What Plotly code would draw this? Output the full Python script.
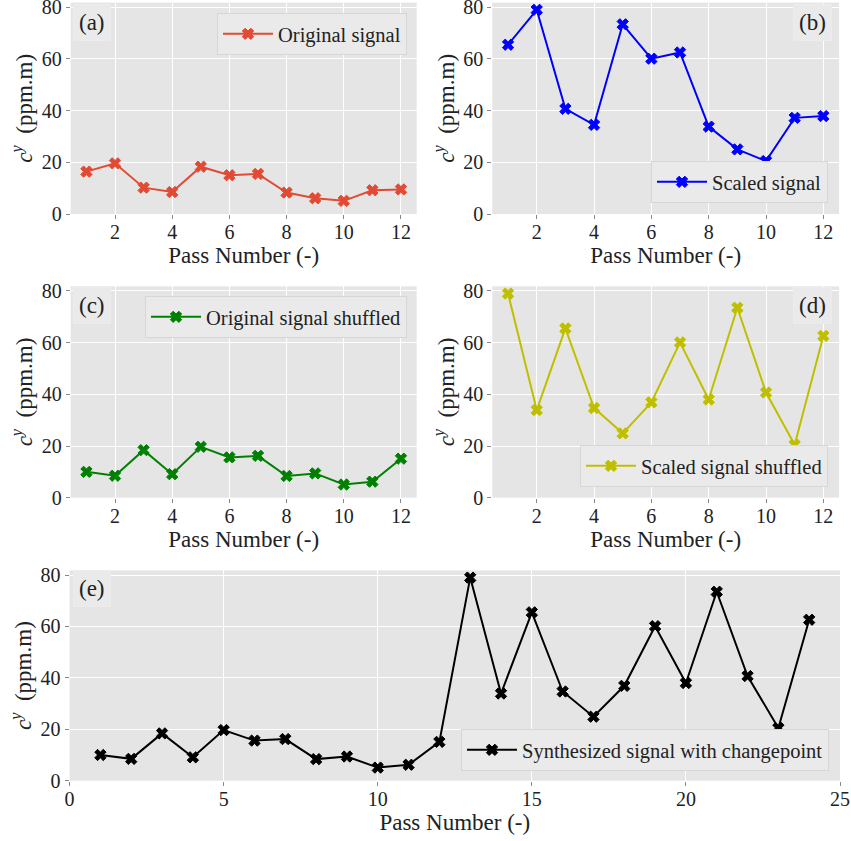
import plotly.graph_objects as go

# ---- data ----
passes = [1, 2, 3, 4, 5, 6, 7, 8, 9, 10, 11, 12]
passes_all = list(range(1, 25))
original = [16.4, 19.6, 10.2, 8.5, 18.3, 15.0, 15.5, 8.3, 6.1, 5.1, 9.2, 9.5]
scaled = [65.5, 79.0, 40.7, 34.5, 73.4, 60.1, 62.5, 33.8, 25.0, 20.5, 37.2, 37.9]
original_shuffled = [10.0, 8.5, 18.4, 9.1, 19.7, 15.6, 16.2, 8.4, 9.4, 5.1, 6.2, 15.1]
scaled_shuffled = [79.0, 33.9, 65.5, 34.7, 24.9, 36.9, 60.1, 38.0, 73.5, 40.7, 20.5, 62.6]
synthesized = [10.0, 8.5, 18.4, 9.1, 19.7, 15.6, 16.2, 8.4, 9.4, 5.1, 6.2, 15.1,
               79.0, 33.9, 65.5, 34.7, 24.9, 36.9, 60.1, 38.0, 73.5, 40.7, 20.5, 62.6]
series_names = ["Original signal", "Scaled signal", "Original signal shuffled",
                "Scaled signal shuffled", "Synthesized signal with changepoint"]
panel_labels = ["(a)", "(b)", "(c)", "(d)", "(e)"]
y_ticks = [0, 20, 40, 60, 80]

W, H = 851, 841
FONT = "Liberation Serif, Times New Roman, serif"

def px_x(v):
    return v / W

def px_y(v):
    return 1 - v / H

# panel geometry in pixels: (left, right, top, bottom)
panels = [
    (70.7, 416.7, 2.6, 214.0),
    (492.3, 839.1, 2.6, 214.0),
    (70.7, 416.7, 286.3, 497.7),
    (492.3, 839.1, 286.3, 497.7),
    (69.6, 840.0, 570.4, 780.7),
]
colors = ["#E24A33", "#0000FF", "#008000", "#BFBF00", "#000000"]
xs = [passes, passes, passes, passes, passes_all]
ys = [original, scaled, original_shuffled, scaled_shuffled, synthesized]

fig = go.Figure()

legend_pos = [
    (407, 13, "right", "top"),
    (828, 203, "right", "bottom"),
    (407, 296, "right", "top"),
    (828, 487, "right", "bottom"),
    (829, 771, "right", "bottom"),
]
label_pos = [(92, 22), (812, 22), (92, 305), (812, 305), (92, 588)]

for i in range(5):
    sfx = "" if i == 0 else str(i + 1)
    lg = "legend" if i == 0 else f"legend{i + 1}"
    fig.add_trace(go.Scatter(
        x=xs[i], y=ys[i], mode="lines+markers", name=series_names[i],
        line=dict(color=colors[i], width=2),
        marker=dict(symbol="x", size=10, color=colors[i],
                    line=dict(width=1, color=colors[i])),
        xaxis="x" + sfx, yaxis="y" + sfx, legend=lg,
    ))
    l, r, t, b = panels[i]
    if i < 4:
        xr = [0.45, 12.55]
        xt = [2, 4, 6, 8, 10, 12]
    else:
        xr = [0, 25]
        xt = [0, 5, 10, 15, 20, 25]
    fig.update_layout(**{
        "xaxis" + sfx: dict(
            domain=[px_x(l), px_x(r)], range=xr, tickvals=xt, anchor="y" + sfx,
            showgrid=True, gridcolor="white", gridwidth=1.2, zeroline=False,
            ticks="outside", ticklen=4, tickcolor="#888", showline=False,
            automargin=False, ticklabeloverflow="allow", ticklabelstandoff=-4,
            tickfont=dict(family=FONT, size=20, color="#222"),
            title=dict(text="Pass Number (-)", standoff=4,
                       font=dict(family=FONT, size=23, color="#222")),
        ),
        "yaxis" + sfx: dict(
            domain=[px_y(b), px_y(t)], range=[0, 81.8], tickvals=y_ticks,
            anchor="x" + sfx,
            showgrid=True, gridcolor="white", gridwidth=1.2, zeroline=False,
            ticks="outside", ticklen=4, tickcolor="#888", showline=False,
            automargin=False, ticklabeloverflow="allow",
            tickfont=dict(family=FONT, size=20, color="#222"),
            title=dict(text="<i>c</i><sup><i>y</i></sup>  (ppm.m)", standoff=2,
                       font=dict(family=FONT, size=23, color="#222")),
        ),
    })
    lx, ly, xa, ya = legend_pos[i]
    fig.update_layout(**{
        lg: dict(
            x=px_x(lx), y=px_y(ly), xanchor=xa, yanchor=ya,
            xref="paper", yref="paper",
            bgcolor="#eaeaea", bordercolor="#d6d6d6", borderwidth=1,
            font=dict(family=FONT, size=20.5, color="#222"),
            itemwidth=50,
        )
    })
    cx, cy = label_pos[i]
    fig.add_annotation(
        x=px_x(cx), y=px_y(cy), xref="paper", yref="paper",
        text=panel_labels[i], showarrow=False, xanchor="center", yanchor="middle",
        font=dict(family=FONT, size=23, color="#222"),
        bgcolor="#eaeaea", bordercolor="#ececec", borderwidth=1, borderpad=5,
    )

fig.update_layout(
    width=W, height=H, margin=dict(l=0, r=0, t=0, b=0),
    paper_bgcolor="white", plot_bgcolor="#E5E5E5",
    showlegend=True,
)

fig.write_html(
    "out.html",
    config={"displayModeBar": False},
    post_script="document.body.style.margin='0';document.body.style.overflow='hidden';",
)
